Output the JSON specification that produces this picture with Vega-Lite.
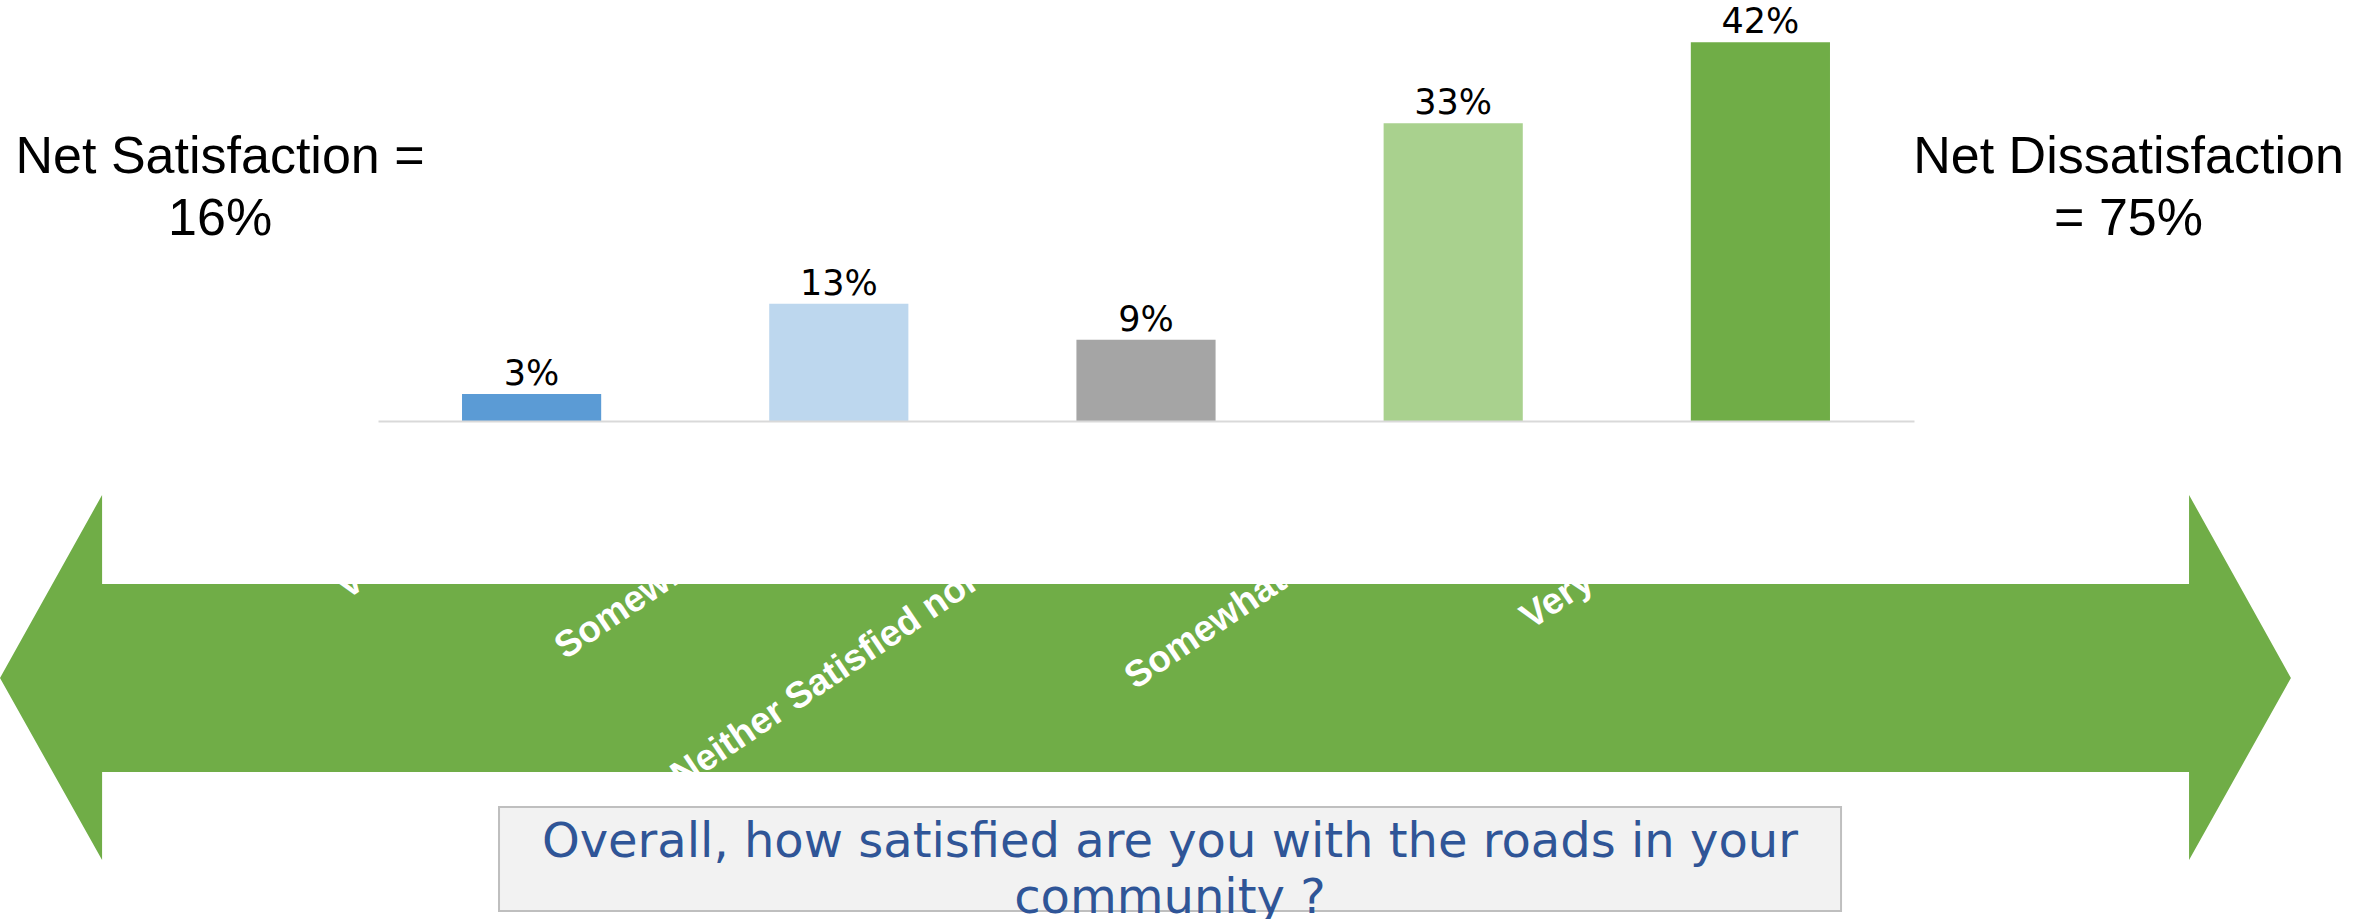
{
  "$schema": "https://vega.github.io/schema/vega-lite/v6.json",
  "width": 1536,
  "height": 421,
  "autosize": {"type": "none"},
  "padding": {"left": 378, "top": 0, "right": 460, "bottom": 498},
  "background": "white",
  "config": {"view": {"stroke": null}},
  "datasets": {
    "survey": [
      {"response": "Very Satisfied", "share": 0.03},
      {"response": "Somewhat Satisfied", "share": 0.13},
      {"response": "Neither Satisfied nor Dissatisfied", "share": 0.09},
      {"response": "Somewhat Dissatisfied", "share": 0.33},
      {"response": "Very Dissatisfied", "share": 0.42}
    ],
    "arrow": [
      {"x": 0, "top": 26.22, "bottom": 26.22},
      {"x": 4.3, "top": 46.14, "bottom": 6.42},
      {"x": 4.301, "top": 36.45, "bottom": 16.0},
      {"x": 92.209, "top": 36.45, "bottom": 16.0},
      {"x": 92.21, "top": 46.14, "bottom": 6.42},
      {"x": 96.5, "top": 26.22, "bottom": 26.22}
    ],
    "box": [
      {"x0": 21.02, "x1": 77.55, "y0": 12.19, "y1": 0.87}
    ],
    "notes": [
      {"x": 9.27, "y": 81.18, "text": "Net Satisfaction =\n16%"},
      {"x": 89.66, "y": 81.18, "text": "Net Dissatisfaction\n= 75%"}
    ],
    "question": [
      {"x": 49.28, "y": 6.75, "text": "Overall, how satisfied are you with the roads in your\ncommunity ?"}
    ]
  },
  "layer": [
    {
      "layer": [
        {
          "data": {"name": "arrow"},
          "mark": {"type": "area", "fill": "#70AD47", "stroke": null, "opacity": 1, "orient": "vertical", "interpolate": "linear"},
          "encoding": {
            "x": {"field": "x", "type": "quantitative", "scale": {"domain": [0, 100], "range": [-378, 1996]}, "axis": null},
            "y": {"field": "top", "type": "quantitative", "scale": {"domain": [0, 100], "range": [919, 0]}, "axis": null},
            "y2": {"field": "bottom"}
          }
        },
        {
          "data": {"name": "box"},
          "mark": {"type": "rect", "fill": "#F2F2F2", "stroke": "#BFBFBF", "strokeWidth": 2},
          "encoding": {
            "x": {"field": "x0", "type": "quantitative", "scale": {"domain": [0, 100], "range": [-378, 1996]}, "axis": null},
            "x2": {"field": "x1"},
            "y": {"field": "y0", "type": "quantitative", "scale": {"domain": [0, 100], "range": [919, 0]}, "axis": null},
            "y2": {"field": "y1"}
          }
        },
        {
          "data": {"name": "notes"},
          "mark": {"type": "text", "lineBreak": "\n", "font": "Liberation Sans", "fontSize": 52, "lineHeight": 62, "align": "center", "baseline": "alphabetic", "color": "black"},
          "encoding": {
            "x": {"field": "x", "type": "quantitative", "scale": {"domain": [0, 100], "range": [-378, 1996]}, "axis": null},
            "y": {"field": "y", "type": "quantitative", "scale": {"domain": [0, 100], "range": [919, 0]}, "axis": null},
            "text": {"field": "text"}
          }
        },
        {
          "data": {"name": "question"},
          "mark": {"type": "text", "lineBreak": "\n", "font": "DejaVu Sans", "fontSize": 48, "lineHeight": 56, "align": "center", "baseline": "alphabetic", "color": "#2F5597"},
          "encoding": {
            "x": {"field": "x", "type": "quantitative", "scale": {"domain": [0, 100], "range": [-378, 1996]}, "axis": null},
            "y": {"field": "y", "type": "quantitative", "scale": {"domain": [0, 100], "range": [919, 0]}, "axis": null},
            "text": {"field": "text"}
          }
        }
      ]
    },
    {
      "data": {"name": "survey"},
      "encoding": {
        "x": {
          "field": "response", "type": "nominal", "sort": null,
          "scale": {"paddingInner": 0.547, "paddingOuter": 0.2735},
          "axis": {
            "title": null, "labelAngle": -34, "labelColor": "white", "labelFont": "Liberation Sans",
            "labelFontSize": 37, "labelFontWeight": "bold", "labelLimit": 2000, "labelOverlap": false,
            "labelPadding": 19,
            "ticks": false, "domainColor": "#D9D9D9", "domainWidth": 2, "zindex": 1
          }
        },
        "y": {"field": "share", "type": "quantitative", "scale": {"domain": [0, 0.4667], "nice": false}, "axis": null}
      },
      "layer": [
        {
          "mark": {"type": "bar"},
          "encoding": {
            "color": {
              "field": "response", "type": "nominal", "legend": null,
              "scale": {
                "domain": ["Very Satisfied", "Somewhat Satisfied", "Neither Satisfied nor Dissatisfied", "Somewhat Dissatisfied", "Very Dissatisfied"],
                "range": ["#5B9BD5", "#BDD7EE", "#A5A5A5", "#A9D18E", "#70AD47"]
              }
            }
          }
        },
        {
          "mark": {"type": "text", "font": "DejaVu Sans", "fontSize": 35, "baseline": "alphabetic", "dy": -9, "color": "black"},
          "encoding": {"text": {"field": "share", "type": "quantitative", "format": ".0%"}}
        }
      ]
    }
  ],
  "resolve": {"scale": {"x": "independent", "y": "independent"}}
}
